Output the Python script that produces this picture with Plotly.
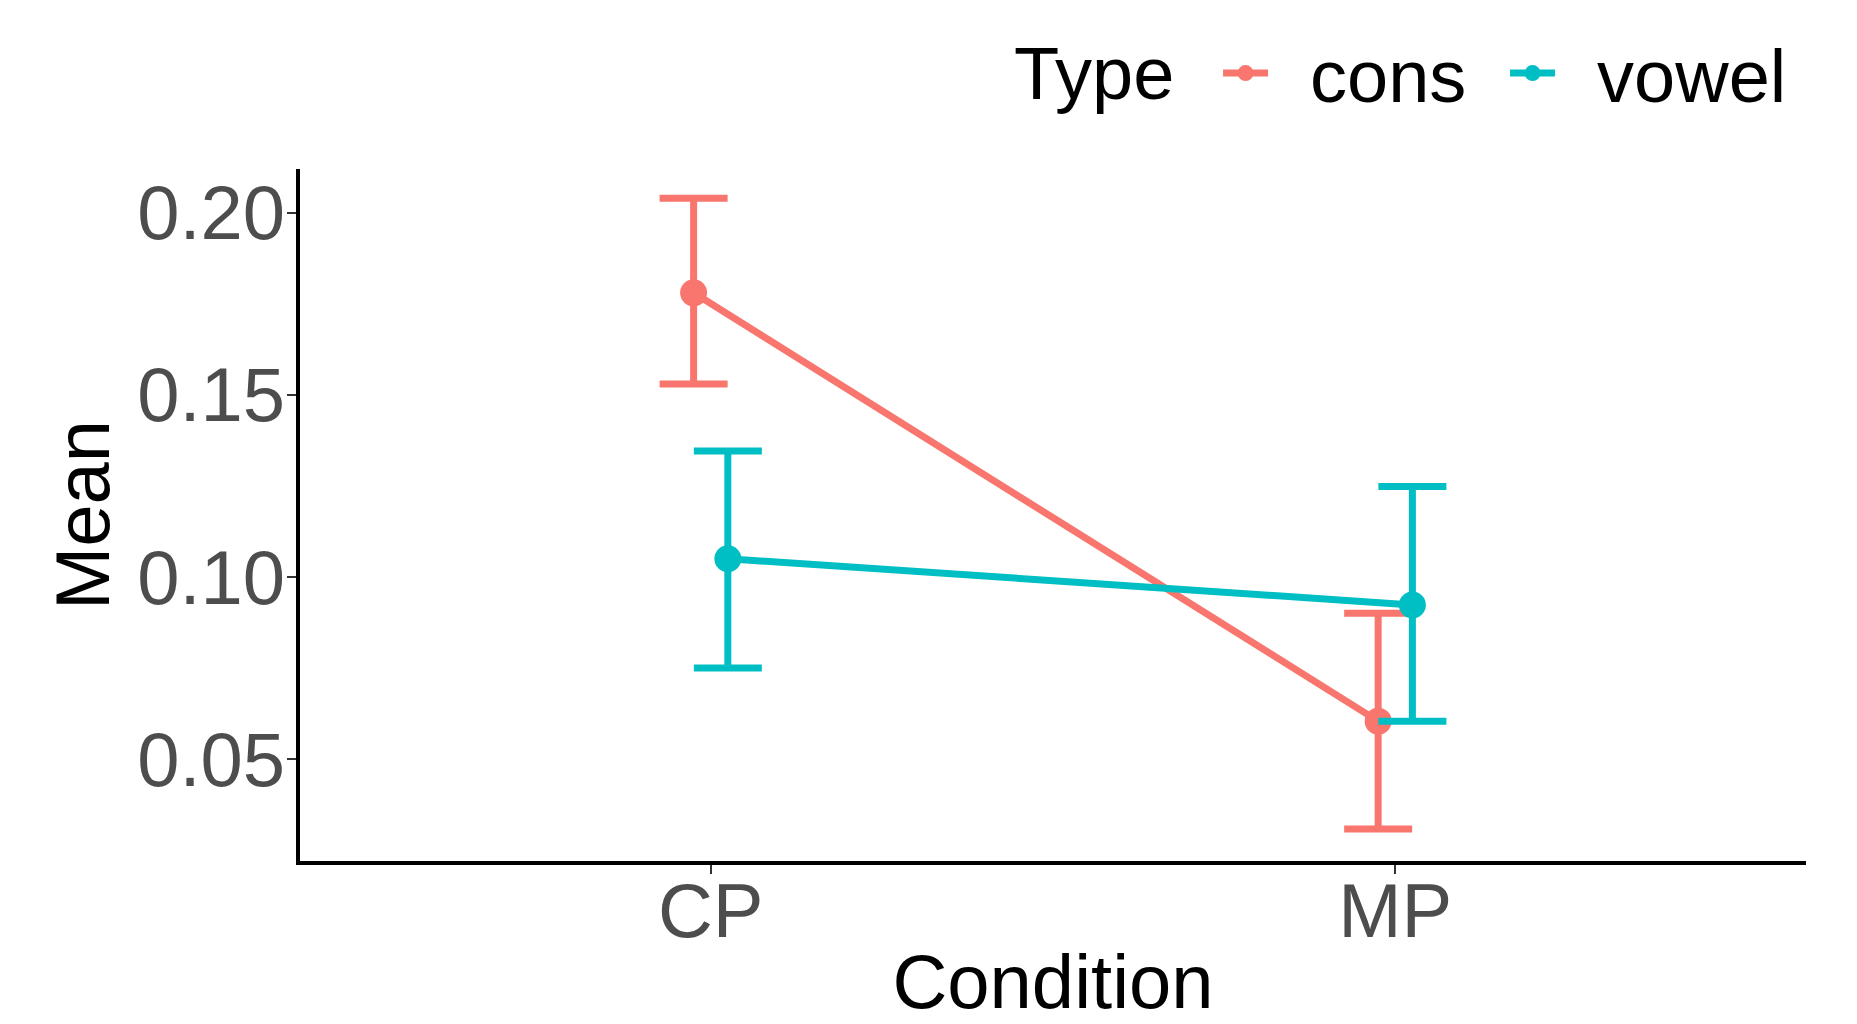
import plotly.graph_objects as go

conditions = ["CP", "MP"]
types = ["cons", "vowel"]
means = {"cons": [0.178, 0.0604], "vowel": [0.105, 0.0923]}
upper = {"cons": [0.204, 0.090], "vowel": [0.1346, 0.1248]}
lower = {"cons": [0.153, 0.0308], "vowel": [0.075, 0.0604]}
colors = {"cons": "#F8766D", "vowel": "#00BFC4"}
dodge = {"cons": -0.025, "vowel": 0.025}

fig = go.Figure()
for t in types:
    xs = [i + 1 + dodge[t] for i in range(len(conditions))]
    m = means[t]
    fig.add_trace(go.Scatter(
        x=xs, y=m, name="\u2002" + t, mode="lines+markers",
        line=dict(color=colors[t], width=7),
        marker=dict(color=colors[t], size=27),
        error_y=dict(type="data", symmetric=False,
                     array=[u - v for u, v in zip(upper[t], m)],
                     arrayminus=[v - l for v, l in zip(m, lower[t])],
                     color=colors[t], thickness=7, width=34),
    ))

font_family = "Liberation Sans, Arial, sans-serif"
fig.update_layout(
    width=1849, height=1016,
    margin=dict(l=292, r=51, t=161, b=163, autoexpand=False),
    paper_bgcolor="white", plot_bgcolor="white",
    font=dict(family=font_family, color="black"),
    showlegend=True,
    legend=dict(orientation="h", x=0.6096, xanchor="left", y=1.138, yanchor="middle",
                font=dict(size=74, color="black"), itemwidth=45, entrywidth=227),
    annotations=[dict(text="Type", x=0.4728, xref="paper", xanchor="left",
                      y=1.138, yref="paper", yanchor="middle", showarrow=False,
                      font=dict(size=74, color="black"))],
    xaxis=dict(range=[0.4, 2.6], tickmode="array", tickvals=[1, 2], ticktext=conditions,
               showline=True, linecolor="black", linewidth=3.5, showgrid=False, zeroline=False,
               ticks="outside", ticklen=9, tickwidth=2, tickcolor="#333333",
               tickfont=dict(size=76, color="#4D4D4D"), automargin=False,
               ticklabelstandoff=-28,
               title=dict(text="Condition", font=dict(size=76, color="black"), standoff=10)),
    yaxis=dict(range=[0.022, 0.212], tickvals=[0.05, 0.10, 0.15, 0.20],
               ticktext=["0.05", "0.10", "0.15", "0.20"],
               showline=True, linecolor="black", linewidth=3.5, showgrid=False, zeroline=False,
               ticks="outside", ticklen=9, tickwidth=2, tickcolor="#333333",
               tickfont=dict(size=76, color="#4D4D4D"), automargin=False,
               ticklabelstandoff=-13,
               title=dict(text="Mean", font=dict(size=76, color="black"), standoff=4)),
)

fig.write_html("out.html")
